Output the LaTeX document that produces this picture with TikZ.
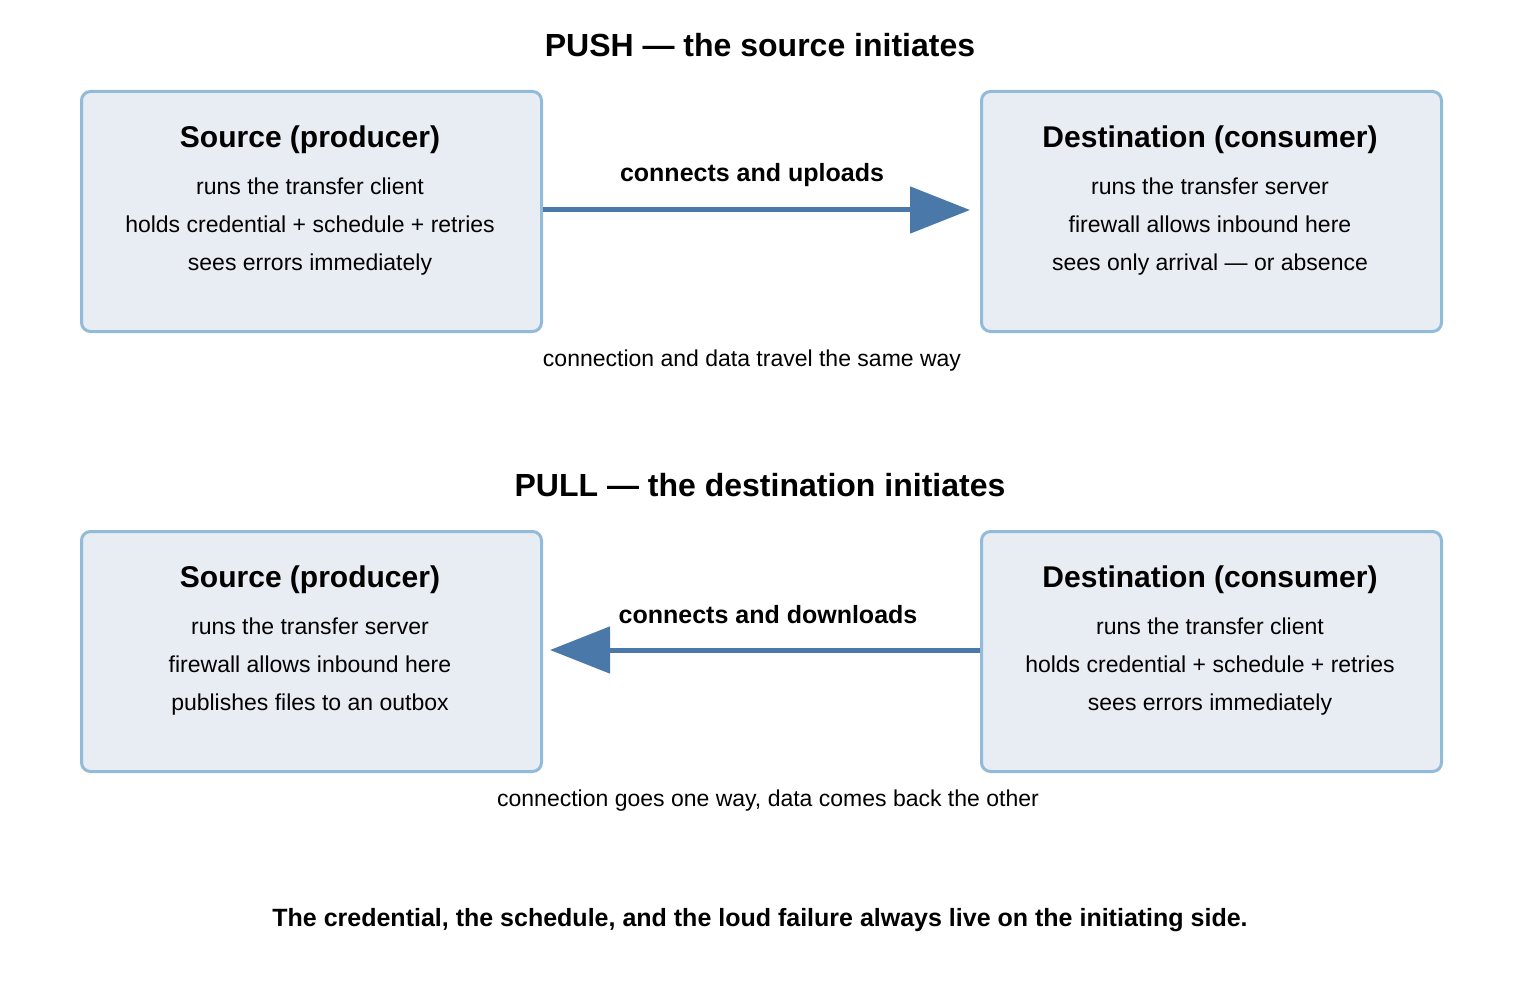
\documentclass[tikz,border=0pt]{standalone}
\usepackage{fontspec}
\setmainfont{Liberation Sans}
\usetikzlibrary{arrows.meta}
\definecolor{boxfill}{HTML}{E8EDF4}
\definecolor{boxline}{HTML}{92BBDA}
\definecolor{arr}{HTML}{4A78A8}
\begin{document}
\begin{tikzpicture}[x=1pt,y=-1pt,
  box/.style={draw=boxline,fill=boxfill,line width=3pt,rounded corners=9pt,minimum width=460pt,minimum height=240pt,anchor=north west},
  ttl/.style={font=\bfseries\fontsize{30}{34}\selectfont},
  body/.style={font=\fontsize{23}{38}\selectfont,align=center},
  head/.style={font=\bfseries\fontsize{32}{36}\selectfont},
  lbl/.style={font=\bfseries\fontsize{25}{30}\selectfont},
  captxt/.style={font=\fontsize{23}{28}\selectfont},
  conn/.style={draw=arr,line width=5pt,-{Triangle[length=60pt,width=46pt]}}]
\useasboundingbox (0,0) rectangle (1520,1000);
\node[head] (h1) at (760,45) {PUSH — the source initiates};
\node[box] (s1) at (80,90) {};
\node[box] (d1) at (980,90) {};
\node[ttl] (s1t) at (310,140) {Source (producer)};
\node[body] (s1b) at (310,227) {runs the transfer client\\holds credential + schedule + retries\\sees errors immediately};
\node[ttl] (d1t) at (1210,140) {Destination (consumer)};
\node[body] (d1b) at (1210,227) {runs the transfer server\\firewall allows inbound here\\sees only arrival — or absence};
\coordinate (e1) at (970,210);
\draw[conn] (s1.east |- e1) -- (e1);
\node[lbl] (l1) at (752,175) {connects and uploads};
\node[captxt] (c1) at (752,361) {connection and data travel the same way};

\node[head] (h2) at (760,485) {PULL — the destination initiates};
\node[box] (s2) at (80,530) {};
\node[box] (d2) at (980,530) {};
\node[ttl] (s2t) at (310,580) {Source (producer)};
\node[body] (s2b) at (310,667) {runs the transfer server\\firewall allows inbound here\\publishes files to an outbox};
\node[ttl] (d2t) at (1210,580) {Destination (consumer)};
\node[body] (d2b) at (1210,667) {runs the transfer client\\holds credential + schedule + retries\\sees errors immediately};
\coordinate (e2) at (550,650);
\draw[conn] (d2.west |- e2) -- (e2);
\node[lbl] (l2) at (768,615) {connects and downloads};
\node[captxt] (c2) at (768,801) {connection goes one way, data comes back the other};

\node[lbl] (f) at (760,920) {The credential, the schedule, and the loud failure always live on the initiating side.};
\end{tikzpicture}
\end{document}
